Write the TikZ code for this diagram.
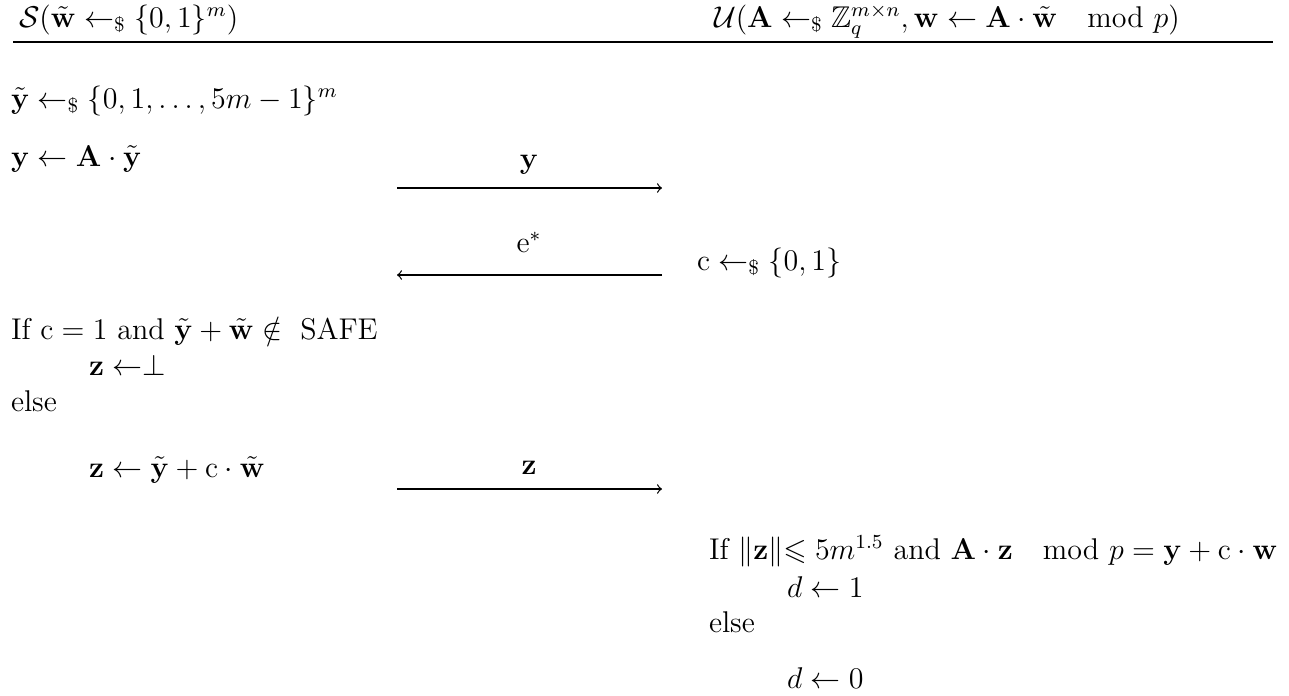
\documentclass[tikz,border=0pt,12pt]{standalone}
\usepackage{amsmath,amssymb}
\newcommand{\bigmod}{\mkern18mu\mathrm{mod}\,\,}
\begin{document}
\begin{tikzpicture}[x=0.4pt,y=-0.4pt,
  txt/.style={anchor=base west,inner sep=0pt,outer sep=0pt},
  lbl/.style={anchor=base,inner sep=0pt},
  msg/.style={->,line width=0.5pt}]
\useasboundingbox (0,0) rectangle (1289,695);
% headers
\node[txt] (hs) at (19,27) {$\mathcal{S}(\tilde{\mathbf{w}}\leftarrow_{\$}\{0,1\}^m)$};
\node[txt] (hu) at (714,27) {$\mathcal{U}(\mathbf{A}\leftarrow_{\$}\mathbb{Z}_q^{m\times n},\mathbf{w}\leftarrow\mathbf{A}\cdot\tilde{\mathbf{w}}\bigmod p)$};
\coordinate (rl) at (13,42);
\coordinate (rr) at (1273,42);
\draw[line width=0.5pt] (rl) -- (rr);
% sender column
\node[txt] (s1) at (11,108) {$\tilde{\mathbf{y}}\leftarrow_{\$}\{0,1,\ldots,5m-1\}^m$};
\node[txt] (s2) at (11,166) {$\mathbf{y}\leftarrow\mathbf{A}\cdot\tilde{\mathbf{y}}$};
\node[txt] (s3) at (11,339) {If $\mathrm{c}=1$ and $\tilde{\mathbf{y}}+\tilde{\mathbf{w}}\notin\ \mathrm{SAFE}$};
\node[txt] (s4) at (89,375) {$\mathbf{z}\leftarrow\perp$};
\node[txt] (s5) at (11,411) {else};
\node[txt] (s6) at (89,477) {$\mathbf{z}\leftarrow\tilde{\mathbf{y}}+\mathrm{c}\cdot\tilde{\mathbf{w}}$};
% receiver column
\node[txt] (u1) at (697,270) {$\mathrm{c}\leftarrow_{\$}\{0,1\}$};
\node[txt] (u2) at (709,559) {If $\|\mathbf{z}\|{\leqslant}\;5m^{1.5}$ and $\mathbf{A}\cdot\mathbf{z}\bigmod p=\mathbf{y}+\mathrm{c}\cdot\mathbf{w}$};
\node[txt] (u3) at (787,597) {$d\leftarrow 1$};
\node[txt] (u4) at (709,632) {else};
\node[txt] (u5) at (787,688) {$d\leftarrow 0$};
% messages
\coordinate (m1l) at (397,188); \coordinate (m1r) at (662,188);
\coordinate (m2l) at (397,275); \coordinate (m2r) at (662,275);
\coordinate (m3l) at (397,489); \coordinate (m3r) at (662,489);
\draw[msg] (m1l) -- (m1r);
\draw[msg] (m2r) -- (m2l);
\draw[msg] (m3l) -- (m3r);
\node[lbl] (l1) at (529,168) {$\mathbf{y}$};
\node[lbl] (l2) at (529,252) {$\mathrm{e}^*$};
\node[lbl] (l3) at (529,474) {$\mathbf{z}$};
\end{tikzpicture}
\end{document}
